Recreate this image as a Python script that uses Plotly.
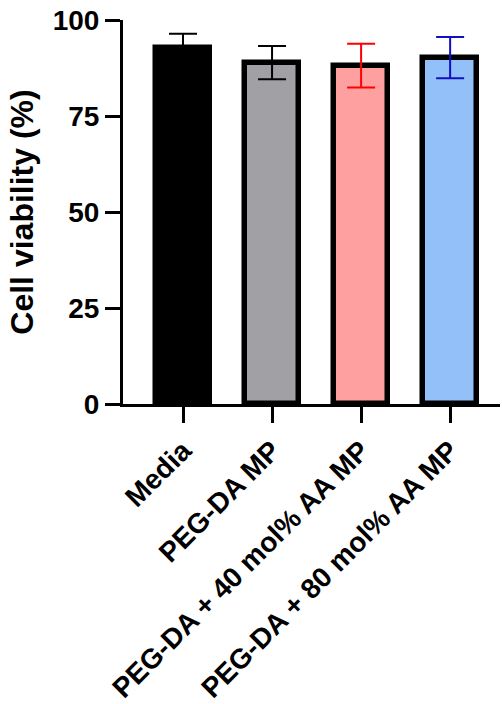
import plotly.graph_objects as go

categories = ["Media", "PEG-DA MP", "PEG-DA + 40 mol% AA MP", "PEG-DA + 80 mol% AA MP"]
means = [92.8, 88.9, 88.1, 90.2]
errors = [3.6, 4.3, 5.7, 5.4]
fill_colors = ["#000000", "#A1A0A5", "#FFA0A0", "#93C0F8"]
err_colors = ["#000000", "#000000", "#FF0000", "#1010C0"]
y_ticks = [0, 25, 50, 75, 100]

FONT = "Liberation Sans, Arial, sans-serif"

fig = go.Figure()
for i, cat in enumerate(categories):
    fig.add_trace(go.Bar(
        x=[i], y=[means[i]],
        width=0.6,
        marker=dict(color=fill_colors[i], line=dict(color="#000000", width=5.5)),
        error_y=dict(type="data", array=[errors[i]], visible=True,
                     color=err_colors[i], thickness=2, width=14),
        showlegend=False,
    ))

fig.update_layout(
    width=502, height=704,
    margin=dict(l=123, r=2, t=20, b=300),
    paper_bgcolor="white", plot_bgcolor="white",
    font=dict(family=FONT, color="black"),
    bargap=0,
)
fig.update_xaxes(
    range=[-0.674, 3.56],
    tickmode="array", tickvals=list(range(len(categories))), ticktext=categories,
    tickangle=-45, automargin=False,
    tickfont=dict(family=FONT, size=28, weight="bold", color="black"),
    showline=True, linecolor="black", linewidth=3,
    ticks="outside", ticklen=16, tickwidth=3, tickcolor="black",
    showgrid=False, zeroline=False,
)
fig.update_yaxes(
    range=[0, 100], automargin=False,
    tickmode="array", tickvals=y_ticks, ticktext=[str(v) for v in y_ticks],
    tickfont=dict(family=FONT, size=28, weight="bold", color="black"),
    showline=True, linecolor="black", linewidth=3,
    ticks="outside", ticklen=15, tickwidth=3, tickcolor="black",
    showgrid=False, zeroline=False,
    title=dict(text="Cell viability (%)", font=dict(family=FONT, size=32, weight="bold", color="black"), standoff=10),
)

fig.write_html("out.html")
